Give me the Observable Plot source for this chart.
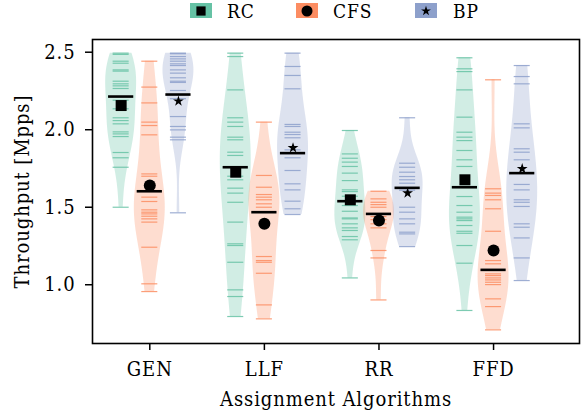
<!DOCTYPE html>
<html><head><meta charset="utf-8">
<script src="https://cdn.jsdelivr.net/npm/d3@7"></script>
<script src="https://cdn.jsdelivr.net/npm/@observablehq/plot@0.6"></script>
<style>
body{margin:0;background:#fff;}
#wrap{position:relative;width:584px;height:413px;font-family:"DejaVu Serif Condensed","Noto Serif",serif;}
.sw{position:absolute;top:3px;width:22px;height:15px;}
.lt{position:absolute;top:0px;font-size:19px;letter-spacing:0.9px;line-height:22px;color:#000;}
</style></head><body><div id="wrap"></div>
<script>
const algorithms = ["GEN", "LLF", "RR", "FFD"];
const seriesNames = ["RC", "CFS", "BP"];
const seriesColors = ["#66c2a5", "#fc8d62", "#8da0cb"];
const seriesSymbols = ["square", "circle", "star"];
const yTicks = [1.0, 1.5, 2.0, 2.5];

// samples per algorithm (GEN, LLF, RR, FFD)
const rcSamples = [
  [2.494, 2.486, 2.442, 2.429, 2.386, 2.378, 2.313, 2.296, 2.283, 2.266, 2.19, 2.135, 2.077, 2.059, 2.038, 1.986, 1.973, 1.956, 1.853, 1.819, 1.758, 1.50],
  [2.494, 2.472, 2.257, 2.077, 2.049, 2.021, 1.952, 1.935, 1.855, 1.834, 1.70, 1.677, 1.623, 1.591, 1.532, 1.404, 1.264, 1.253, 1.145, 0.967, 0.924, 0.795],
  [1.995, 1.844, 1.816, 1.791, 1.763, 1.720, 1.672, 1.612, 1.601, 1.571, 1.511, 1.474, 1.431, 1.425, 1.393, 1.367, 1.350, 1.311, 1.290, 1.044],
  [2.464, 2.393, 2.375, 2.257, 2.081, 1.984, 1.952, 1.930, 1.866, 1.806, 1.763, 1.569, 1.511, 1.468, 1.436, 1.425, 1.414, 1.382, 1.345, 1.332, 1.253, 1.139, 0.834]
];
const cfsSamples = [
  [2.442, 2.275, 2.173, 2.049, 2.027, 1.967, 1.715, 1.70, 1.565, 1.537, 1.483, 1.468, 1.457, 1.442, 1.425, 1.404, 1.242, 1.006, 0.956],
  [2.049, 1.705, 1.629, 1.582, 1.565, 1.548, 1.522, 1.500, 1.182, 1.156, 1.145, 1.074, 0.870, 0.780],
  [1.603, 1.554, 1.532, 1.517, 1.500, 1.44, 1.42, 1.393, 1.367, 1.221, 1.173, 0.902],
  [2.322, 1.619, 1.591, 1.576, 1.548, 1.490, 1.345, 1.156, 1.135, 1.070, 1.059, 1.044, 1.031, 1.016, 1.001, 0.909, 0.859, 0.709]
];
const bpSamples = [
  [2.494, 2.490, 2.472, 2.457, 2.442, 2.425, 2.414, 2.386, 2.365, 2.335, 2.313, 2.305, 2.253, 2.20, 2.085, 2.021, 1.999, 1.952, 1.935, 1.464],
  [2.494, 2.408, 2.350, 2.264, 2.034, 2.021, 1.984, 1.969, 1.948, 1.87, 1.819, 1.737, 1.651, 1.612, 1.539, 1.490, 1.453],
  [2.077, 1.784, 1.758, 1.726, 1.698, 1.677, 1.655, 1.61, 1.500, 1.468, 1.425, 1.393, 1.339, 1.328, 1.246],
  [2.414, 2.343, 2.296, 2.038, 2.012, 1.877, 1.855, 1.806, 1.72, 1.647, 1.612, 1.548, 1.532, 1.505, 1.393, 1.371, 1.302, 1.173, 1.027]
];
const rcMedian = [2.214, 1.758, 1.539, 1.629];
const cfsMedian = [1.603, 1.468, 1.457, 1.096];
const bpMedian = [2.227, 1.849, 1.625, 1.720];
const rcMean = [2.156, 1.726, 1.548, 1.677];
const cfsMean = [1.640, 1.393, 1.414, 1.221];
const bpMean = [2.184, 1.883, 1.591, 1.748];

const samples = [rcSamples, cfsSamples, bpSamples];
const medians = [rcMedian, cfsMedian, bpMedian];
const meansArr = [rcMean, cfsMean, bpMean];

const offsets = [-0.25, 0, 0.25];
const halfW = 0.135, rugW = 0.07, medW = 0.11;

const violins = [], rugs = [], meds = [], means = [];
seriesNames.forEach((s, si) => {
  algorithms.forEach((a, ai) => {
    const vals = samples[si][ai];
    const c = ai + offsets[si];
    const n = vals.length;
    const bw = d3.deviation(vals) * Math.pow(n, -1 / 5);
    const lo = d3.min(vals), hi = d3.max(vals);
    const grid = d3.range(121).map(i => lo + (hi - lo) * i / 120);
    const dens = grid.map(y => d3.sum(vals, v => Math.exp(-0.5 * ((y - v) / bw) ** 2)));
    const m = d3.max(dens);
    grid.forEach((y, i) => violins.push({key: s + a, series: s, y, x1: c - halfW * dens[i] / m, x2: c + halfW * dens[i] / m}));
    vals.forEach(v => rugs.push({series: s, y: v, x1: c - rugW, x2: c + rugW}));
    meds.push({y: medians[si][ai], x1: c - medW, x2: c + medW});
    means.push({series: s, x: c, y: meansArr[si][ai]});
  });
});

const symR = {RC: 6.2, CFS: 6, BP: 3.4};
const FONT = "'DejaVu Serif Condensed', 'Noto Serif', serif";

const chart = Plot.plot({
  width: 584, height: 413,
  marginLeft: 92, marginRight: 5, marginTop: 39, marginBottom: 70,
  x: {domain: [-0.5, 3.75]},
  y: {domain: [0.621, 2.582]},
  color: {domain: seriesNames, range: seriesColors},
  style: {fontFamily: FONT, fontSize: "20px", letterSpacing: "0.9px", color: "#000", background: "#fff"},
  marks: [
    Plot.areaX(violins, {y: "y", x1: "x1", x2: "x2", z: "key", fill: "series", fillOpacity: 0.3, curve: "linear"}),
    Plot.ruleY(rugs, {y: "y", x1: "x1", x2: "x2", stroke: "series", strokeWidth: 1.2, strokeOpacity: 0.85}),
    Plot.ruleY(meds, {y: "y", x1: "x1", x2: "x2", stroke: "black", strokeWidth: 2.6}),
    ...seriesNames.map((s, si) => Plot.dot(means.filter(d => d.series === s), {x: "x", y: "y", symbol: seriesSymbols[si], r: symR[s], fill: "black", stroke: "none"})),
    Plot.frame({stroke: "black", strokeWidth: 1.6}),
    Plot.axisX({ticks: [0, 1, 2, 3], tickFormat: i => algorithms[i], tickSize: 7, tickPadding: 11, strokeWidth: 1.5, fontSize: 20, label: null}),
    Plot.axisY({ticks: yTicks, tickFormat: d3.format(".1f"), tickSize: 7, tickPadding: 10, strokeWidth: 1.5, fontSize: 20, label: null}),
    Plot.text(["Assignment Algorithms"], {frameAnchor: "bottom", dy: 56, text: d => d, lineAnchor: "middle", textAnchor: "middle", fontSize: 20}),
    Plot.text(["Throughput [Mpps]"], {frameAnchor: "left", dx: -70, text: d => d, rotate: -90, lineAnchor: "middle", textAnchor: "middle", fontSize: 20})
  ]
});
const wrap = document.getElementById("wrap");
wrap.appendChild(chart);

// legend
const swLeft = [190, 296, 415], txLeft = [227, 333, 453];
seriesNames.forEach((s, i) => {
  const sw = document.createElement("div");
  sw.className = "sw";
  sw.style.left = swLeft[i] + "px";
  sw.style.background = seriesColors[i];
  const r = [5.2, 5.5, 3.1][i];
  const sym = [d3.symbolSquare, d3.symbolCircle, d3.symbolStar][i];
  const path = d3.symbol(sym, r * r * Math.PI)();
  sw.innerHTML = `<svg width="22" height="15" style="display:block"><path transform="translate(11,8)" d="${path}" fill="black"/></svg>`;
  wrap.appendChild(sw);
  const t = document.createElement("div");
  t.className = "lt";
  t.style.left = txLeft[i] + "px";
  t.textContent = s;
  wrap.appendChild(t);
});
chart.style.position = "absolute";
chart.style.left = "0";
chart.style.top = "0";
</script></body></html>
